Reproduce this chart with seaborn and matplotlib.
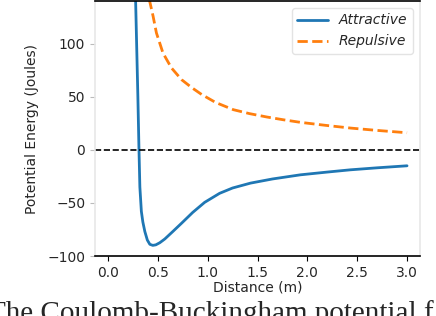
import matplotlib
matplotlib.use("Agg")
import matplotlib.pyplot as plt
import seaborn as sns
import pandas as pd

# Data
attr_dist = [0.27, 0.28, 0.29, 0.30, 0.31, 0.32, 0.335, 0.35, 0.37, 0.395, 0.42, 0.45,
             0.48, 0.52, 0.57, 0.65, 0.74, 0.85, 0.97, 1.12, 1.25, 1.43, 1.65, 1.93,
             2.2, 2.43, 2.7, 3.0]
attr_energy = [170, 130, 90, 50, 5, -35, -58, -68, -77, -85, -89, -90,
               -89.5, -87.5, -84, -77, -69, -59, -49.5, -41, -36, -31.4, -27.5, -23.6,
               -21, -18.9, -17, -15.1]
rep_dist = [0.40, 0.418, 0.452, 0.486, 0.552, 0.637, 0.738, 0.84, 0.94, 1.08, 1.258,
            1.42, 1.595, 1.76, 1.93, 2.18, 2.434, 2.7, 3.0]
rep_energy = [150, 140, 126, 110, 91, 77, 66, 58.5, 52, 44.5, 37.7,
              34, 30.8, 28.2, 25.8, 23, 20.4, 18.2, 16]
series_names = ["Attractive", "Repulsive"]
x_label = "Distance (m)"
y_label = "Potential Energy (Joules)"
caption = "The Coulomb-Buckingham potential f"

sns.set_style("white")
plt.rcParams["font.family"] = ["DejaVu Sans"]

fig = plt.figure(figsize=(4.36, 3.16), dpi=100)
ax = fig.add_axes([95 / 436, 60 / 316, 325 / 436, 255 / 316])

df_a = pd.DataFrame({"d": attr_dist, "e": attr_energy})
df_r = pd.DataFrame({"d": rep_dist, "e": rep_energy})
sns.lineplot(data=df_a, x="d", y="e", ax=ax, color="#1f77b4", lw=2,
             label=series_names[0], sort=False)
sns.lineplot(data=df_r, x="d", y="e", ax=ax, color="#ff7f0e", lw=2,
             linestyle="--", label=series_names[1], sort=False)
ax.axhline(0, color="black", lw=1.2, linestyle="--")

ax.set_xlim(-0.13, 3.13)
ax.set_ylim(-100, 140)
ax.set_xticks([0.0, 0.5, 1.0, 1.5, 2.0, 2.5, 3.0])
ax.set_yticks([-100, -50, 0, 50, 100])
ax.set_xlabel(x_label, fontsize=10, labelpad=0.5)
ax.set_ylabel(y_label, fontsize=10, labelpad=6)
ax.tick_params(axis="both", labelsize=10, length=3.5, width=0.8, direction="out",
               bottom=True, left=True, color="black")
ax.tick_params(axis="y", color="#bbbbbb")

for s in ["left", "right"]:
    ax.spines[s].set_color("#e8e8e8")
    ax.spines[s].set_linewidth(1.2)
for s in ["top", "bottom"]:
    ax.spines[s].set_color("black")
    ax.spines[s].set_linewidth(1.2)

leg = ax.legend(loc="upper right", prop={"style": "italic", "size": 10},
                frameon=True, fancybox=True, handlelength=2.2)
leg.get_frame().set_edgecolor("#dddddd")

fig.text(-12 / 436, -5 / 316, caption, fontsize=21, family="Liberation Serif",
         ha="left", va="baseline")

fig.savefig("out.png", dpi=100)
